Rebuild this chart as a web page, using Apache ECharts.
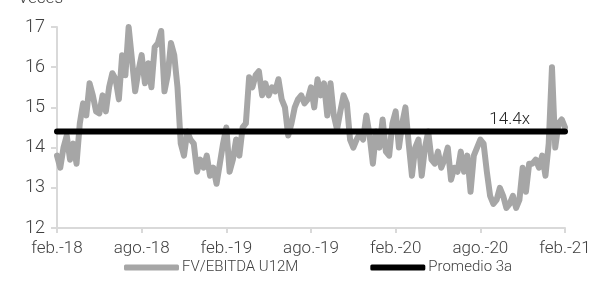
<!DOCTYPE html>
<html>
<head>
<meta charset="utf-8">
<script src="https://cdn.jsdelivr.net/npm/echarts@6/dist/echarts.min.js"></script>
<style>
  html, body { margin: 0; padding: 0; background: #fff; }
  #chart { width: 593px; height: 294px; }
</style>
</head>
<body>
<div id="chart"></div>
<script>
// weekly FV/EBITDA U12M (feb-18 .. feb-21)
const fvEbitda = [
  13.8, 13.5, 14.0, 14.3, 13.7, 14.1, 13.6, 14.6, 15.1, 14.8,
  15.6, 15.3, 14.9, 14.85, 15.3, 14.9, 15.5, 15.85, 15.7, 15.2,
  16.3, 15.8, 17.0, 16.2, 15.4, 15.9, 16.3, 15.6, 16.1, 15.5,
  16.5, 16.6, 16.9, 15.4, 15.8, 16.6, 16.3, 15.5, 14.1, 13.8,
  14.4, 14.2, 14.1, 13.4, 13.7, 13.5, 13.8, 13.3, 13.5, 13.1,
  13.6, 14.1, 14.5, 13.4, 13.7, 14.2, 13.8, 14.5, 14.6, 15.75,
  15.5, 15.8, 15.9, 15.3, 15.6, 15.3, 15.5, 15.4, 15.7, 15.2,
  15.0, 14.3, 14.6, 15.0, 15.2, 15.3, 15.1, 15.2, 15.5, 15.0,
  15.7, 15.3, 15.6, 14.8, 15.6, 14.8, 14.45, 14.9, 15.3, 15.1,
  14.2, 14.0, 14.2, 14.35, 14.2, 14.8, 14.3, 13.6, 14.4, 14.0,
  14.7, 13.9, 13.8, 14.6, 14.9, 14.0, 14.6, 15.0, 14.1, 13.3,
  14.0, 14.2, 13.3, 14.0, 14.4, 13.7, 13.6, 13.9, 13.5, 13.7,
  14.0, 13.2, 13.5, 13.4, 13.9, 13.4, 13.8, 12.9, 13.8, 14.0,
  14.2, 14.1, 13.4, 12.8, 12.6, 12.7, 13.0, 12.8, 12.5, 12.6,
  12.8, 12.5, 12.7, 13.5, 12.9, 13.6, 13.6, 13.7, 13.5, 13.8,
  13.3, 14.1, 16.0, 14.0, 14.6, 14.7, 14.5
];
const promedio = 14.4;
const tickLabels = ['feb.-18', 'ago.-18', 'feb.-19', 'ago.-19', 'feb.-20', 'ago.-20', 'feb.-21'];
const yTicks = [12, 13, 14, 15, 16, 17];
const weeksPerTick = 26;
const promedioLabelAt = 139;

const weeks = fvEbitda.map((v, i) => i);
const promedioLine = fvEbitda.map((v, i) => i === promedioLabelAt
  ? { value: promedio, label: { show: true, position: 'top', formatter: promedio.toFixed(1) + 'x', distance: 3 } }
  : promedio);

const font = 'Roboto, Liberation Sans, sans-serif';
const axisColor = '#d9d9d9';
const textColor = '#404040';

const chart = echarts.init(document.getElementById('chart'));
chart.setOption({
  animation: false,
  textStyle: { fontFamily: font, fontWeight: 300 },
  grid: { left: 57, right: 28, top: 27, bottom: 66, containLabel: false, outerBoundsMode: 'none' },
  legend: {
    left: 119, top: 255,
    itemWidth: 55, itemHeight: 6, itemGap: 72,
    icon: 'roundRect',
    textStyle: { fontFamily: font, fontWeight: 300, fontSize: 15, color: textColor, padding: [0, 0, 0, -2] },
    data: ['FV/EBITDA U12M', 'Promedio 3a']
  },
  xAxis: {
    type: 'category',
    data: weeks,
    boundaryGap: false,
    axisLine: { lineStyle: { color: axisColor, width: 2 } },
    axisTick: {
      length: 5, lineStyle: { color: axisColor, width: 2 },
      interval: (i) => i % weeksPerTick === 0
    },
    axisLabel: {
      interval: (i) => i % weeksPerTick === 0,
      formatter: (v, i) => tickLabels[i / weeksPerTick] || '',
      color: textColor, fontSize: 17, margin: 12, fontFamily: font, fontWeight: 300
    },
    splitLine: { show: false }
  },
  yAxis: {
    type: 'value',
    min: yTicks[0], max: yTicks[yTicks.length - 1], interval: 1,
    name: 'Veces',
    nameLocation: 'end',
    nameGap: 20,
    nameTextStyle: { fontFamily: font, fontWeight: 300, fontSize: 17, color: textColor, align: 'right', padding: [0, -6, 0, 0] },
    axisLine: { show: true, lineStyle: { color: axisColor, width: 2 } },
    axisTick: { show: true, length: 6, lineStyle: { color: axisColor, width: 2 } },
    axisLabel: { color: textColor, fontSize: 18, margin: 12, fontFamily: font, fontWeight: 300 },
    splitLine: { show: false }
  },
  series: [
    {
      name: 'FV/EBITDA U12M',
      type: 'line',
      data: fvEbitda,
      showSymbol: false,
      symbol: 'none',
      color: '#a6a6a6',
      lineStyle: { width: 6, color: '#a6a6a6', cap: 'round', join: 'round' }
    },
    {
      name: 'Promedio 3a',
      type: 'line',
      data: promedioLine,
      showSymbol: true,
      symbol: 'circle',
      symbolSize: 0,
      color: '#000',
      lineStyle: { width: 6, color: '#000', cap: 'round' },
      label: { color: '#262626', fontSize: 17, fontFamily: font, fontWeight: 300 }
    }
  ]
});
</script>
</body>
</html>
